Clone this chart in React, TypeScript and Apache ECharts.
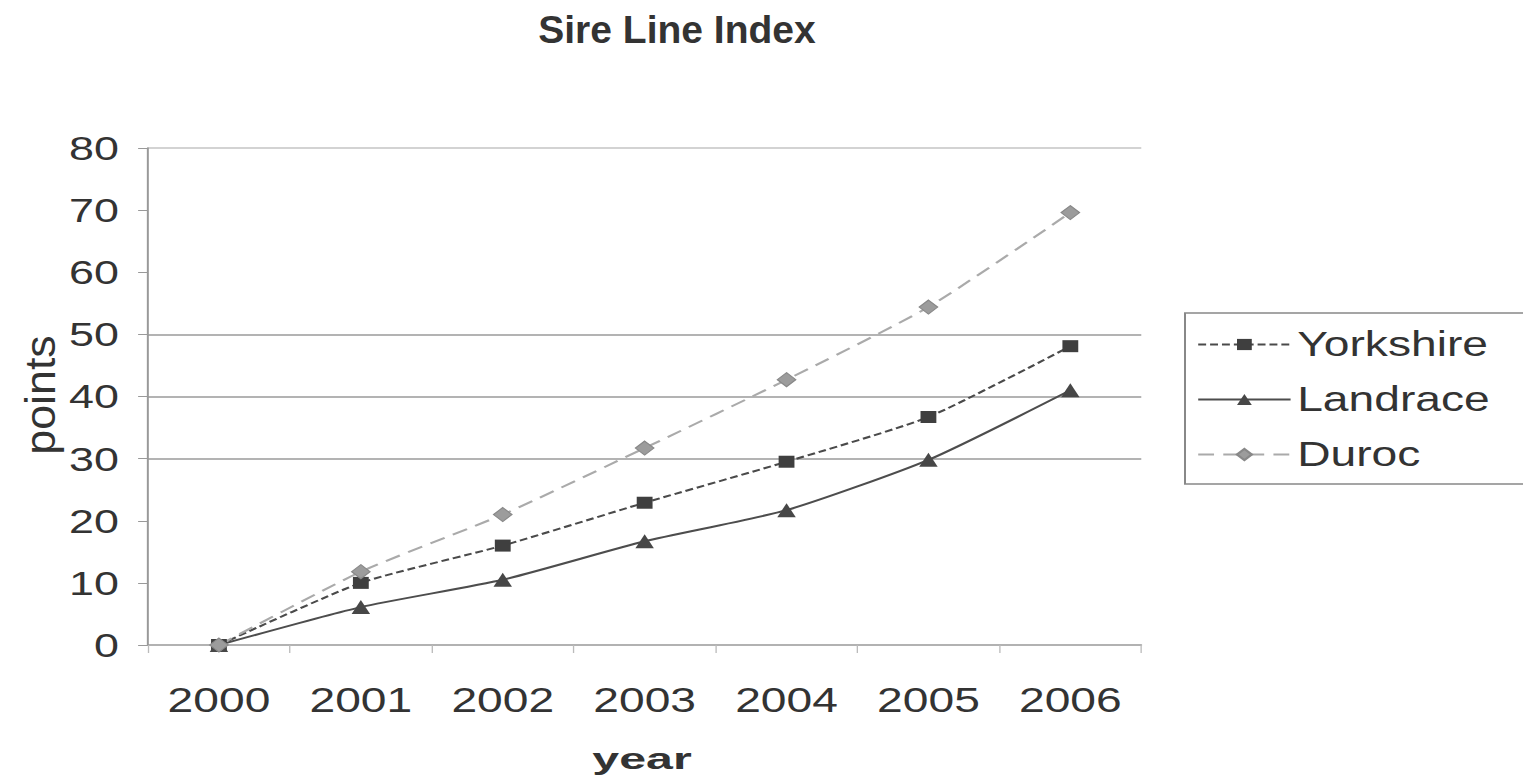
import React, { useEffect, useRef } from 'react';
import * as echarts from 'echarts';

const years = ['2000', '2001', '2002', '2003', '2004', '2005', '2006'];
const yorkshire = [0, 10.0, 16.0, 22.9, 29.5, 36.7, 48.1];
const landrace = [0, 6.1, 10.5, 16.7, 21.7, 29.8, 41.0];
const duroc = [0, 11.8, 21.0, 31.7, 42.7, 54.4, 69.6];
const seriesNames = ['Yorkshire', 'Landrace', 'Duroc'];
const titleText = 'Sire Line Index';
const xName = 'year';
const yName = 'points';

const SX = 1.32;
const W = 1523 / SX;
const H = 784;
const FONT = '"Liberation Sans", Arial, sans-serif';

export default function App() {
  const ref = useRef<HTMLDivElement>(null);
  useEffect(() => {
    if (!ref.current) return;
    const chart = echarts.init(ref.current, undefined, { renderer: 'svg' });
    const gridLeft = 148 / SX;
    const gridRight = W - 1141 / SX;
    const hidden = 'rgba(0,0,0,0)';
    chart.setOption({
      animation: false,
      backgroundColor: '#fff',
      textStyle: { fontFamily: FONT },
      graphic: [
        {
          type: 'text',
          x: 677 / SX,
          y: 10,
          scaleX: 1 / SX,
          style: {
            text: titleText,
            fontSize: 39,
            fontWeight: 'bold',
            fontFamily: FONT,
            fill: '#333',
            align: 'center',
            verticalAlign: 'top',
          },
        },
        {
          type: 'text',
          x: 40 / SX,
          y: 395,
          rotation: Math.PI / 2,
          scaleX: 1.4,
          style: {
            text: yName,
            fontSize: 32,
            fontFamily: FONT,
            fill: '#333',
            align: 'center',
            verticalAlign: 'middle',
          },
        },
        {
          type: 'text',
          x: 642 / SX,
          y: 744,
          scaleX: 1.22,
          style: {
            text: xName,
            fontSize: 30,
            fontWeight: 'bold',
            fontFamily: FONT,
            fill: '#333',
            align: 'center',
            verticalAlign: 'top',
          },
        },
      ],
      legend: {
        orient: 'vertical',
        left: 1185 / SX,
        top: 313,
        itemWidth: 70,
        itemHeight: 14,
        itemGap: 20,
        padding: [14, 40, 12, 9],
        borderColor: '#888',
        borderWidth: 1.5,
        textStyle: { fontSize: 35, color: '#333', fontFamily: FONT },
        data: seriesNames,
      },
      grid: { left: gridLeft, right: gridRight, top: 148, bottom: H - 645 },
      xAxis: {
        type: 'category',
        data: years,
        boundaryGap: true,
        axisLine: { lineStyle: { color: '#999', width: 1.5 } },
        axisTick: { show: true, length: 8, lineStyle: { color: '#bbb' } },
        axisLabel: { fontSize: 35, color: '#333', margin: 38, fontFamily: FONT },
        splitLine: { show: false },
      },
      yAxis: {
        type: 'value',
        min: 0,
        max: 80,
        interval: 10,
        axisLine: { show: true, lineStyle: { color: '#999', width: 1.5 } },
        axisTick: { show: true, length: 7.5, lineStyle: { color: '#999' } },
        axisLabel: { fontSize: 34, color: '#333', margin: 22, fontFamily: FONT },
        splitLine: {
          show: true,
          lineStyle: {
            color: [hidden, hidden, hidden, '#9a9a9a', '#9a9a9a', '#9a9a9a', hidden, hidden, '#c4c4c4'],
            width: 1.5,
          },
        },
      },
      series: [
        {
          name: seriesNames[0],
          type: 'line',
          data: yorkshire,
          smooth: 0.2,
          symbol: 'rect',
          symbolSize: 12,
          lineStyle: { color: '#4a4a4a', width: 2, type: [6, 3] },
          itemStyle: { color: '#3f3f3f' },
        },
        {
          name: seriesNames[1],
          type: 'line',
          data: landrace,
          smooth: 0.2,
          symbol: 'triangle',
          symbolSize: 14,
          lineStyle: { color: '#4d4d4d', width: 2 },
          itemStyle: { color: '#474747' },
        },
        {
          name: seriesNames[2],
          type: 'line',
          data: duroc,
          smooth: 0.2,
          symbol: 'diamond',
          symbolSize: 14,
          lineStyle: { color: '#aaaaaa', width: 2, type: [12, 7] },
          itemStyle: { color: '#9c9c9c', borderColor: '#888', borderWidth: 1 },
        },
      ],
    });
    return () => chart.dispose();
  }, []);
  return (
    <div
      ref={ref}
      style={{
        position: 'absolute',
        left: 0,
        top: 0,
        width: W,
        height: H,
        transform: `scaleX(${SX})`,
        transformOrigin: '0 0',
      }}
    />
  );
}
